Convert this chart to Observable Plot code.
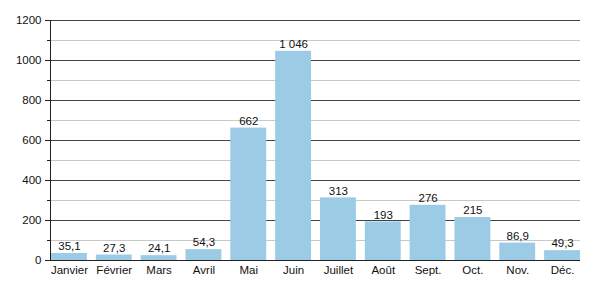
<!DOCTYPE html>
<html><head><meta charset="utf-8">
<script src="https://cdn.jsdelivr.net/npm/d3@7"></script>
<script src="https://cdn.jsdelivr.net/npm/@observablehq/plot@0.6"></script>
<style>body{margin:0;background:#fff}</style>
</head><body><div id="chart"></div>
<script>
const months = ["Janvier","Février","Mars","Avril","Mai","Juin","Juillet","Août","Sept.","Oct.","Nov.","Déc."];
const values = [35.1,27.3,24.1,54.3,662,1046,313,193,276,215,86.9,49.3];
const majorTicks = [0,200,400,600,800,1000,1200];
const minorTicks = [100,300,500,700,900,1100];

const data = months.map((m,i)=>({month:m, value:values[i]}));
const fr = d3.formatLocale({decimal:",", thousands:" ", grouping:[3], currency:["",""]});
const fmt = fr.format(",");

const chart = Plot.plot({
  width:600, height:300,
  marginLeft:50, marginRight:20, marginTop:20, marginBottom:40,
  style:{fontFamily:"Liberation Sans, Arial, sans-serif", fontSize:"11px", color:"#222", background:"#fff"},
  x:{domain:months, range:[51,580], paddingInner:0.2, paddingOuter:0, align:0.5, round:false, label:null},
  y:{domain:[0,1200], label:null},
  marks:[
    Plot.ruleY(minorTicks,{stroke:"#c8c8c8", strokeWidth:1}),
    Plot.ruleY(majorTicks,{stroke:"#444", strokeWidth:1}),
    Plot.barY(data,{x:"month", y:"value", fill:"#9bcbe5"}),
    Plot.ruleY([0],{stroke:"#222", strokeWidth:1}),
    Plot.text(data,{x:"month", y:"value", text:d=>fmt(d.value), dy:-7, fill:"#111", fontSize:11.5}),
    Plot.axisY({ticks:majorTicks, tickSize:5, tickPadding:4, tickFormat:d=>String(d), stroke:"#222", fill:"#111", fontSize:11.5}),
    Plot.axisY({ticks:minorTicks, tickSize:3, tickFormat:()=>"", stroke:"#222"}),
    Plot.axisX({tickSize:0, tickPadding:5, fill:"#111", fontSize:11.5}),
    Plot.frame({anchor:"left", stroke:"#222"})
  ]
});
document.getElementById("chart").append(chart);
</script></body></html>
